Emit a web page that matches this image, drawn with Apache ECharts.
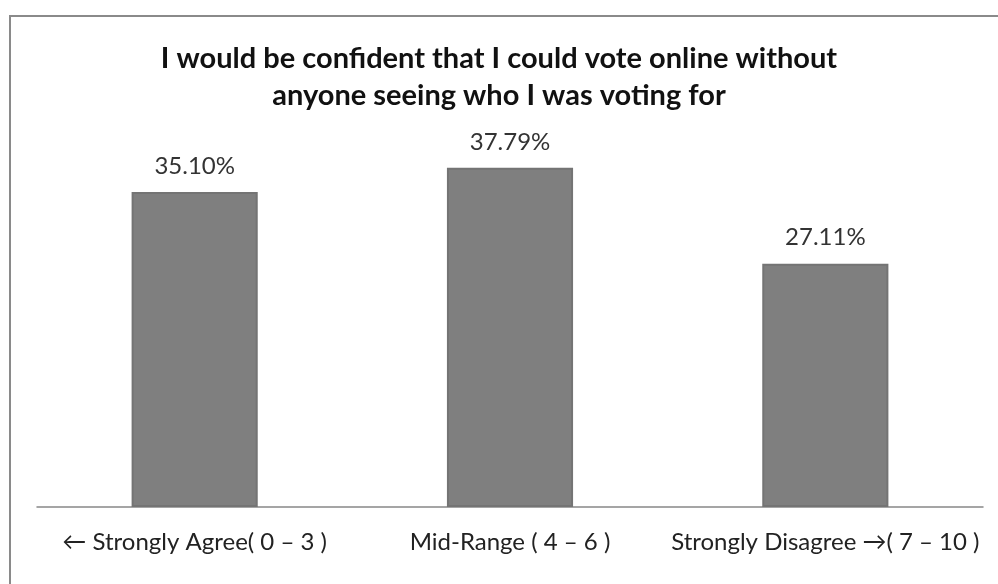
<!DOCTYPE html>
<html><head><meta charset="utf-8">
<script src="https://cdn.jsdelivr.net/npm/echarts@6/dist/echarts.min.js"></script>
<style>html,body{margin:0;padding:0;background:#fff}#c{width:998px;height:584px}</style>
</head><body><div id="c"></div>
<script>
const titleText = "I would be confident that I could vote online without\nanyone seeing who I was voting for";
const categories = ["\u2190 Strongly Agree( 0 \u2013 3 )", "Mid-Range ( 4 \u2013 6 )", "Strongly Disagree \u2192( 7 \u2013 10 )"];
const values = [35.10, 37.79, 27.11];

const chart = echarts.init(document.getElementById('c'));
chart.setOption({
  animation: false,
  backgroundColor: '#fff',
  graphic: [{type:'rect', shape:{x:10,y:16,width:1000,height:600}, style:{fill:'none', stroke:'#8a8a8a', lineWidth:2}}],
  title: {text: titleText, left: 'center', top: 35, textStyle:{fontFamily:'Lato', fontWeight:'bold', fontSize:29, color:'#111', lineHeight:37}},
  grid: {left:37, right:15, top:148, bottom:77},
  xAxis: {type:'category', data: categories, axisLine:{lineStyle:{color:'#888', width:1.5}}, axisTick:{show:false},
    axisLabel:{interval:0, hideOverlap:false, fontFamily:'Lato', fontSize:24, color:'#222', margin:23}},
  yAxis: {type:'value', min:0, max:40, show:false, splitLine:{show:false}},
  series: [{type:'bar', data: values, barWidth:'40%',
    itemStyle:{color:'#7f7f7f', borderColor:'#747474', borderWidth:2},
    label:{show:true, position:'top', distance:14, fontFamily:'Lato', fontSize:24, color:'#333', formatter: p => p.value.toFixed(2)+'%'}}]
});
</script></body></html>
